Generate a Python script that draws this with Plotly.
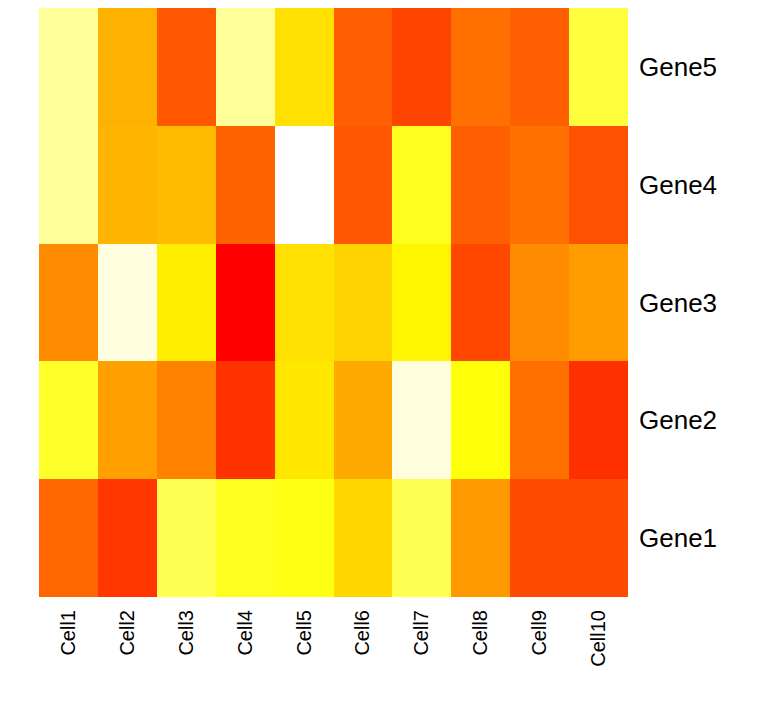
import plotly.graph_objects as go

cells = ["Cell1", "Cell2", "Cell3", "Cell4", "Cell5", "Cell6", "Cell7", "Cell8", "Cell9", "Cell10"]
genes = ["Gene1", "Gene2", "Gene3", "Gene4", "Gene5"]

gene1 = [0.30, 0.16, 0.83, 0.78, 0.77, 0.63, 0.83, 0.45, 0.22, 0.22]
gene2 = [0.79, 0.47, 0.38, 0.15, 0.68, 0.50, 0.97, 0.76, 0.33, 0.14]
gene3 = [0.41, 0.97, 0.70, 0.00, 0.66, 0.62, 0.72, 0.21, 0.41, 0.46]
gene4 = [0.90, 0.53, 0.55, 0.29, 1.00, 0.26, 0.78, 0.28, 0.33, 0.24]
gene5 = [0.90, 0.52, 0.26, 0.90, 0.66, 0.28, 0.20, 0.33, 0.28, 0.81]

z = [gene1, gene2, gene3, gene4, gene5]

heat = [[0.0, "#FF0000"], [0.75, "#FFFF00"], [1.0, "#FFFFFF"]]

fig = go.Figure(go.Heatmap(
    z=z, x=cells, y=genes, colorscale=heat, zmin=0, zmax=1,
    showscale=False, xgap=0, ygap=0, hoverinfo="x+y+z",
))

fig.update_layout(
    width=775, height=707,
    margin=dict(l=31, r=155, t=0, b=118),
    paper_bgcolor="white", plot_bgcolor="white",
    font=dict(family="Liberation Sans, Arial, sans-serif", color="black"),
)
fig.update_xaxes(tickangle=-90, tickfont=dict(size=20), ticks="", showgrid=False,
                 zeroline=False, showline=False, ticklabelstandoff=8)
fig.update_yaxes(side="right", tickfont=dict(size=26), ticks="", showgrid=False,
                 zeroline=False, showline=False, ticklabelstandoff=10)

fig.write_html("out.html")
